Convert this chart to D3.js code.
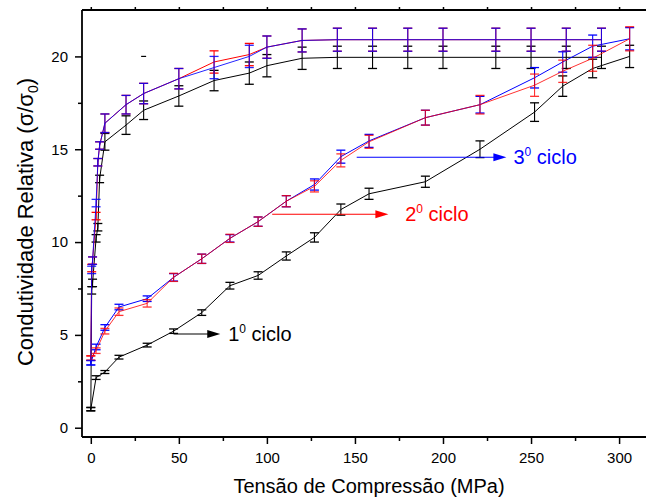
<!DOCTYPE html>
<html><head><meta charset="utf-8">
<script src="https://cdn.jsdelivr.net/npm/d3@7"></script>
<style>
html,body{margin:0;padding:0;background:#fff;}
text{font-family:"Liberation Sans",Arial,sans-serif;}
</style></head>
<body><svg id="c" width="646" height="501"></svg>
<script>
// ---- data ----
const loadX = [0, 3, 8, 16, 32, 47, 63, 79, 95, 111, 127, 142, 158, 190, 221, 252, 268, 285, 306];
const blackLoadY = [1.0, 2.7, 3.0, 3.8, 4.45, 5.2, 6.2, 7.65, 8.2, 9.25, 10.25, 11.75, 12.6, 13.25, 15.0, 17.0, 18.4, 19.35, 20.0];
const blackLoadErr = [0.08, 0.1, 0.08, 0.1, 0.1, 0.12, 0.15, 0.18, 0.2, 0.22, 0.25, 0.3, 0.3, 0.3, 0.45, 0.5, 0.55, 0.5, 0.6];
const redLoadY = [3.75, 4.15, 5.2, 6.25, 6.7, 8.1, 9.1, 10.2, 11.1, 12.2, 13.0, 14.4, 15.4, 16.7, 17.4, 18.45, 19.2, 19.9, 20.95];
const redLoadErr = [0.12, 0.15, 0.15, 0.2, 0.2, 0.22, 0.25, 0.22, 0.25, 0.3, 0.3, 0.35, 0.35, 0.4, 0.5, 0.6, 0.6, 0.7, 0.65];
const blueLoadY = [3.5, 4.35, 5.4, 6.5, 6.95, 8.1, 9.1, 10.2, 11.1, 12.2, 13.1, 14.6, 15.45, 16.7, 17.4, 18.85, 19.7, 20.55, 20.95];
const blueLoadErr = [0.12, 0.15, 0.15, 0.15, 0.15, 0.2, 0.25, 0.2, 0.25, 0.3, 0.3, 0.35, 0.35, 0.4, 0.45, 0.55, 0.55, 0.6, 0.6];

const unloadX = [290, 270, 250, 230, 200, 180, 160, 140, 120, 100, 90, 70, 50, 30, 20, 8, 5, 4, 3, 1, 0.5, 0];
const blackUnloadY = [19.95, 19.95, 19.95, 19.95, 19.95, 19.95, 19.95, 19.95, 19.9, 19.5, 19.1, 18.7, 17.87, 17.1, 16.3, 15.4, 13.4, 10.8, 10.2, 7.8, 7.4, 1.0];
const blackUnloadErr = [0.6, 0.6, 0.6, 0.6, 0.6, 0.6, 0.6, 0.6, 0.6, 0.6, 0.6, 0.55, 0.55, 0.5, 0.5, 0.45, 0.2, 0.2, 0.2, 0.2, 0.2, 0.1];
const redUnloadY = [20.9, 20.9, 20.9, 20.9, 20.9, 20.9, 20.9, 20.9, 20.86, 20.5, 20.1, 19.7, 18.8, 18.0, 17.4, 16.4, 15.2, 14.3, 11.4, 9.0, 8.6, 3.75];
const redUnloadErr = [0.62, 0.62, 0.62, 0.62, 0.62, 0.62, 0.62, 0.62, 0.62, 0.6, 0.6, 0.6, 0.55, 0.55, 0.5, 0.5, 0.2, 0.2, 0.2, 0.2, 0.2, 0.12];
const blueUnloadY = [20.9, 20.9, 20.9, 20.9, 20.9, 20.9, 20.9, 20.9, 20.86, 20.5, 20.0, 19.4, 18.8, 18.0, 17.4, 16.4, 15.2, 14.3, 12.1, 9.0, 8.5, 3.5];
const blueUnloadErr = [0.62, 0.62, 0.62, 0.62, 0.62, 0.62, 0.62, 0.62, 0.62, 0.6, 0.6, 0.6, 0.55, 0.55, 0.5, 0.5, 0.2, 0.2, 0.2, 0.2, 0.2, 0.12];

const strayMark = [{x: 30, y: 20}];

const xMajorTicks = [0, 50, 100, 150, 200, 250, 300];
const xMinorTicks = [25, 75, 125, 175, 225, 275];
const yMajorTicks = [0, 5, 10, 15, 20];
const yMinorTicks = [2.5, 7.5, 12.5, 17.5];

const cycleLabels = ["1", "2", "3"];
const cycleColors = ["#000000", "#ff0000", "#0000ff"];

// ---- chart ----
const svg = d3.select("#c");
const x = d3.scaleLinear().domain([-5, 315]).range([82, 645.5]);
const y = d3.scaleLinear().domain([-0.5, 22.5]).range([437, 10]);

function zip(xs, ys, es){ return xs.map((v,i)=>({x:v, y:ys[i], e:es[i]})); }

const series = [
  {pts: zip(loadX, blackLoadY, blackLoadErr), color: cycleColors[0], op: 1},
  {pts: zip(unloadX, blackUnloadY, blackUnloadErr), color: cycleColors[0], op: 1},
  {pts: zip(loadX, blueLoadY, blueLoadErr), color: cycleColors[2], op: 1},
  {pts: zip(loadX, redLoadY, redLoadErr), color: cycleColors[1], op: 0.8},
  {pts: zip(unloadX, redUnloadY, redUnloadErr), color: cycleColors[1], op: 1},
  {pts: zip(unloadX, blueUnloadY, blueUnloadErr), color: cycleColors[2], op: 0.85}
];

const line = d3.line().x(d=>x(d.x)).y(d=>y(d.y));
const cap = 4.5;
series.forEach(s=>{
  const g = svg.append("g").attr("opacity", s.op);
  g.append("path").attr("d", line(s.pts)).attr("fill","none").attr("stroke", s.color).attr("stroke-width", 1);
  const eb = g.selectAll("g.eb").data(s.pts).enter().append("g");
  eb.append("line").attr("x1",d=>x(d.x)).attr("x2",d=>x(d.x)).attr("y1",d=>y(d.y-d.e)).attr("y2",d=>y(d.y+d.e)).attr("stroke",s.color).attr("stroke-width",1.1);
  eb.append("line").attr("x1",d=>x(d.x)-cap).attr("x2",d=>x(d.x)+cap).attr("y1",d=>y(d.y-d.e)).attr("y2",d=>y(d.y-d.e)).attr("stroke",s.color).attr("stroke-width",1.3);
  eb.append("line").attr("x1",d=>x(d.x)-cap).attr("x2",d=>x(d.x)+cap).attr("y1",d=>y(d.y+d.e)).attr("y2",d=>y(d.y+d.e)).attr("stroke",s.color).attr("stroke-width",1.3);
});
svg.selectAll("line.stray").data(strayMark).enter().append("line")
  .attr("x1",d=>x(d.x)-2.5).attr("x2",d=>x(d.x)+2.5).attr("y1",d=>y(d.y)).attr("y2",d=>y(d.y)).attr("stroke","#000").attr("stroke-width",1.2);

// axes
const axG = svg.append("g");
axG.append("g").attr("transform","translate(0,437)")
  .call(d3.axisBottom(x).tickValues(xMajorTicks).tickSize(7).tickPadding(8).tickFormat(d3.format("d")));
axG.append("g").attr("transform","translate(0,437)")
  .call(d3.axisBottom(x).tickValues(xMinorTicks).tickSize(4).tickFormat(""));
axG.append("g").attr("transform","translate(0,10)")
  .call(d3.axisTop(x).tickValues(xMajorTicks.concat(xMinorTicks)).tickSize(3).tickFormat(""));
axG.append("g").attr("transform","translate(82,0)")
  .call(d3.axisLeft(y).tickValues(yMajorTicks).tickSize(7).tickPadding(7).tickFormat(d3.format("d")));
axG.append("g").attr("transform","translate(82,0)")
  .call(d3.axisLeft(y).tickValues(yMinorTicks).tickSize(4).tickFormat(""));
axG.selectAll(".domain").remove();
axG.selectAll(".tick line").attr("stroke","#000").attr("stroke-width",1.5);
axG.selectAll(".tick text").attr("font-size","15px").attr("fill","#000").attr("font-family","Liberation Sans, Arial, sans-serif");
axG.append("line").attr("x1",82).attr("x2",82).attr("y1",10).attr("y2",437).attr("stroke","#000").attr("stroke-width",1.8);
axG.append("line").attr("x1",82).attr("x2",646).attr("y1",437).attr("y2",437).attr("stroke","#000").attr("stroke-width",1.8);
axG.append("line").attr("x1",82).attr("x2",646).attr("y1",10).attr("y2",10).attr("stroke","#000").attr("stroke-width",1.8);

// axis titles
svg.append("text").attr("x", 369).attr("y", 493).attr("text-anchor","middle").attr("font-size","20px").text("Tensão de Compressão (MPa)");
const yt = svg.append("text").attr("transform","translate(33,222) rotate(-90)").attr("text-anchor","middle").attr("font-size","22px");
yt.append("tspan").text("Condutividade Relativa (σ/σ");
yt.append("tspan").attr("font-size","14px").attr("dy", 5).text("0");
yt.append("tspan").attr("dy", -5).text(")");

// annotations
const annos = [
  {x1: 47, x2: 73.5, y: 5.05, tx: 78, i: 0},
  {x1: 103, x2: 169, y: 11.5, tx: 178.5, i: 1},
  {x1: 151, x2: 236, y: 14.57, tx: 240, i: 2}
];
annos.forEach(a=>{
  const c = cycleColors[a.i];
  const yy = y(a.y), x1 = x(a.x1), x2 = x(a.x2);
  svg.append("line").attr("x1",x1).attr("x2",x2-10).attr("y1",yy).attr("y2",yy).attr("stroke",c).attr("stroke-width",1.1);
  svg.append("path").attr("d",`M${x2},${yy} L${x2-13},${yy-4} L${x2-13},${yy+4} Z`).attr("fill",c);
  const t = svg.append("text").attr("x", x(a.tx)).attr("y", yy+7).attr("font-size","20px").attr("fill",c);
  t.append("tspan").text(cycleLabels[a.i]);
  t.append("tspan").attr("font-size","12px").attr("dy",-8).text("0");
  t.append("tspan").attr("dy",8).text(" ciclo");
});
</script></body></html>
